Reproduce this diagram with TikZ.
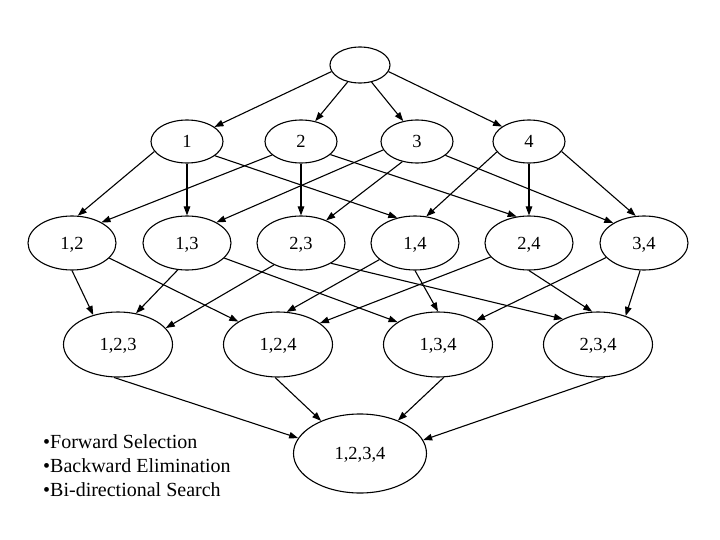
\documentclass[tikz,border=0pt]{standalone}
\usepackage{fontspec}
\setmainfont{Liberation Serif}
\usetikzlibrary{arrows.meta,shapes.geometric}
\begin{document}
\begin{tikzpicture}[x=1pt,y=-1pt,
  lbl/.style={font=\fontsize{18.5}{22}\selectfont},
  st/.style={lbl, draw, ellipse, line width=1.1pt, inner sep=0pt, text depth=0pt},
  s0/.style={st, minimum width=60pt, minimum height=36pt},
  s1/.style={st, minimum width=72pt, minimum height=43pt},
  s2/.style={st, minimum width=88pt, minimum height=54pt},
  s3/.style={st, minimum width=109pt, minimum height=65pt},
  s4/.style={st, minimum width=133pt, minimum height=79pt},
  conn/.style={line width=1.1pt, -{Triangle[length=9pt,width=6.5pt]}},
  note/.style={font=\fontsize{20}{24}\selectfont, anchor=base west, inner sep=0pt}
]
\useasboundingbox[fill=white] (0,0) rectangle (720,540);
% nodes
\node[s0] (t) at (360,65) {};
\node[s1] (a1) at (187,141.5) {1};
\node[s1] (a2) at (301,141.5) {2};
\node[s1] (a3) at (417,141.5) {3};
\node[s1] (a4) at (529,141.5) {4};
\node[s2] (b12) at (72,243) {1,2};
\node[s2] (b13) at (187,243) {1,3};
\node[s2] (b23) at (301,243) {2,3};
\node[s2] (b14) at (415,243) {1,4};
\node[s2] (b24) at (529,243) {2,4};
\node[s2] (b34) at (644,243) {3,4};
\node[s3] (c123) at (118,344.5) {1,2,3};
\node[s3] (c124) at (278,344.5) {1,2,4};
\node[s3] (c134) at (438,344.5) {1,3,4};
\node[s3] (c234) at (598,344.5) {2,3,4};
\node[s4] (d) at (360,453.5) {1,2,3,4};
\node[note] (n1) at (43,448) {•Forward Selection};
\node[note] (n2) at (43,472) {•Backward Elimination};
\node[note] (n3) at (43,496) {•Bi-directional Search};
% top -> level 1
\draw[conn] (t.-167) -- (a1.28);
\draw[conn] (t.-126) -- (a2.55);
\draw[conn] (t.-56) -- (a3.124);
\draw[conn] (t.-13) -- (a4.151);
% level 1 -> level 2
\draw[conn] (a1.-163) -- (b12.78);
\draw[conn] (a1.south) -- (b13.north);
\draw[conn] (a1.-27) -- (b14.125);
\draw[conn] (a2.-155) -- (b12.35);
\draw[conn] (a2.south) -- (b23.north);
\draw[conn] (a2.-24) -- (b24.115);
\draw[conn] (a3.-166) -- (b13.35);
\draw[conn] (a3.-126) -- (b23.42);
\draw[conn] (a3.-26) -- (b34.147);
\draw[conn] (a4.-162) -- (b14.67);
\draw[conn] (a4.south) -- (b24.north);
\draw[conn] (a4.-17) -- (b34.107);
% level 2 -> level 3
\draw[conn] (b12.south) -- (c123.130);
\draw[conn] (b12.-22) -- (c124.150);
\draw[conn] (b13.-109) -- (c123.60);
\draw[conn] (b13.-22) -- (c134.151);
\draw[conn] (b23.-141) -- (c123.19);
\draw[conn] (b23.-34) -- (c234.144);
\draw[conn] (b14.-155) -- (c124.75);
\draw[conn] (b14.south) -- (c134.north);
\draw[conn] (b24.-160) -- (c124.27);
\draw[conn] (b24.south) -- (c234.100);
\draw[conn] (b34.-159) -- (c134.32);
\draw[conn] (b34.-98) -- (c234.46);
% level 3 -> level 4
\draw[conn] (c123.-97) -- (d.166);
\draw[conn] (c124.-95) -- (d.140);
\draw[conn] (c134.-80) -- (d.41);
\draw[conn] (c234.-78) -- (d.12);
\end{tikzpicture}
\end{document}
